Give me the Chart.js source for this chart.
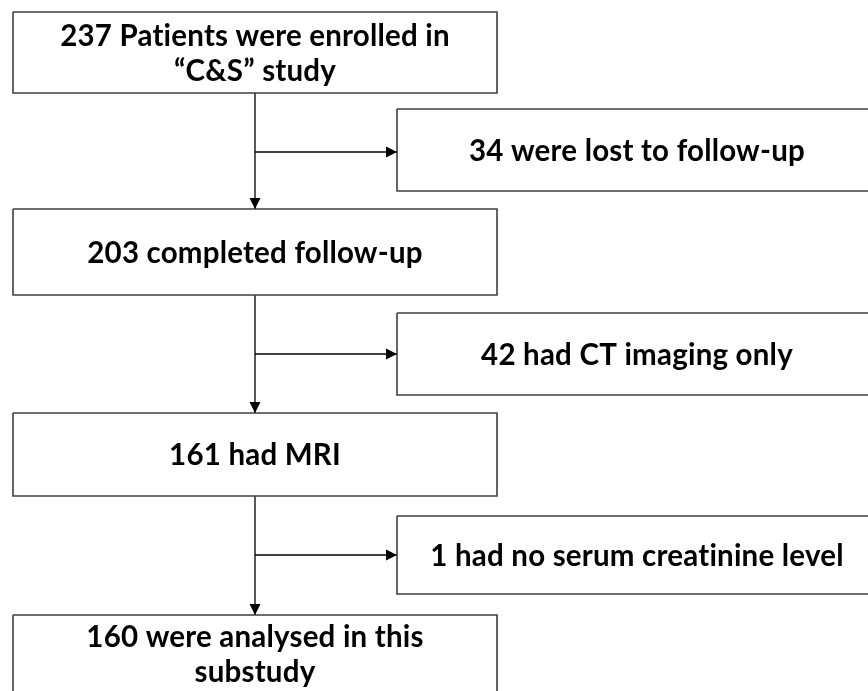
<!DOCTYPE html>
<html>
<head>
<meta charset="utf-8">
<script src="https://cdn.jsdelivr.net/npm/chart.js@4.4.1/dist/chart.umd.min.js"></script>
<style>
  html, body { margin: 0; padding: 0; background: #ffffff; }
  #flow { display: block; }
</style>
</head>
<body>
<canvas id="flow" width="868" height="691"></canvas>
<script>
// flow counts and box texts
const stepCounts = [237, 203, 161, 160];
const stepLabels = [
  ["237 Patients were enrolled in", "“C&S” study"],
  ["203 completed follow-up"],
  ["161 had MRI"],
  ["160 were analysed in this", "substudy"]
];
const exclusionCounts = [34, 42, 1];
const exclusionLabels = [
  ["34 were lost to follow-up"],
  ["42 had CT imaging only"],
  ["1 had no serum creatinine level"]
];

// layout (page units, y grows downward)
const mainX = [13, 497];
const mainY = [[12, 93], [209, 295], [413, 496], [615, 712]];
const sideX = [397, 877];
const sideY = [[109, 191], [313, 395], [516, 594]];
const trunkX = 255;
const branchY = [152, 354, 555];

const ink = "#000000";
const frame = "#3f3f3f";
const fontSize = 29.5;
const lineGap = 35;

function rect(x0, x1, y0, y1) {
  return [
    { x: x0, y: y0 }, { x: x1, y: y0 }, { x: x1, y: y1 },
    { x: x0, y: y1 }, { x: x0, y: y0 }
  ];
}

const boxes = [];
mainY.forEach(([y0, y1], i) => {
  boxes.push({ data: rect(mainX[0], mainX[1], y0, y1), lines: stepLabels[i], count: stepCounts[i] });
});
sideY.forEach(([y0, y1], i) => {
  boxes.push({ data: rect(sideX[0], sideX[1], y0, y1), lines: exclusionLabels[i], count: exclusionCounts[i] });
});

// arrows: trunk segments between main boxes, branches to the side boxes
const arrows = [];
for (let i = 0; i < mainY.length - 1; i++) {
  arrows.push({ data: [{ x: trunkX, y: mainY[i][1] }, { x: trunkX, y: mainY[i + 1][0] }], dir: "down" });
  arrows.push({ data: [{ x: trunkX, y: branchY[i] }, { x: sideX[0], y: branchY[i] }], dir: "right" });
}

const datasets = [
  ...boxes.map((b) => ({
    data: b.data,
    showLine: true,
    borderColor: frame,
    borderWidth: 1.6,
    pointRadius: 0,
    fill: false,
    tension: 0
  })),
  ...arrows.map((a) => ({
    data: a.data,
    showLine: true,
    borderColor: ink,
    borderWidth: 1.3,
    pointRadius: 0,
    fill: false,
    tension: 0
  }))
];

const flowPlugin = {
  id: "flowDecor",
  afterDatasetsDraw(chart) {
    const ctx = chart.ctx;
    const xs = chart.scales.x;
    const ys = chart.scales.y;

    // arrow heads
    ctx.save();
    ctx.fillStyle = ink;
    arrows.forEach((a) => {
      const end = a.data[a.data.length - 1];
      const px = xs.getPixelForValue(end.x);
      const py = ys.getPixelForValue(end.y);
      const len = 11;
      const half = 5.5;
      ctx.beginPath();
      if (a.dir === "down") {
        ctx.moveTo(px, py);
        ctx.lineTo(px - half, py - len);
        ctx.lineTo(px + half, py - len);
      } else {
        ctx.moveTo(px, py);
        ctx.lineTo(px - len, py - half);
        ctx.lineTo(px - len, py + half);
      }
      ctx.closePath();
      ctx.fill();
    });
    ctx.restore();

    // box texts
    ctx.save();
    ctx.fillStyle = ink;
    ctx.textAlign = "center";
    ctx.textBaseline = "alphabetic";
    ctx.font = `bold ${fontSize}px Lato, "Open Sans", sans-serif`;
    ctx.letterSpacing = "0.2px"; // keeps "ti" from joining into a ligature
    const cap = fontSize * 0.72;
    boxes.forEach((b) => {
      const x0 = xs.getPixelForValue(b.data[0].x);
      const x1 = xs.getPixelForValue(b.data[1].x);
      const y0 = ys.getPixelForValue(b.data[0].y);
      const y1 = ys.getPixelForValue(b.data[2].y);
      const cx = (x0 + x1) / 2;
      let cy = (y0 + y1) / 2;
      if (b.count === stepCounts[3]) cy = y0 + 39;
      const n = b.lines.length;
      b.lines.forEach((line, k) => {
        const ly = cy + (k - (n - 1) / 2) * lineGap + cap / 2;
        ctx.fillText(line, cx, ly);
      });
    });
    ctx.restore();
  }
};

new Chart(document.getElementById("flow"), {
  type: "scatter",
  data: { datasets },
  options: {
    responsive: false,
    animation: false,
    events: [],
    layout: { padding: 0 },
    scales: {
      x: { type: "linear", min: 0, max: 868, display: false },
      y: { type: "linear", min: 0, max: 691, reverse: true, display: false }
    },
    plugins: {
      legend: { display: false },
      tooltip: { enabled: false }
    }
  },
  plugins: [flowPlugin]
});
</script>
</body>
</html>
